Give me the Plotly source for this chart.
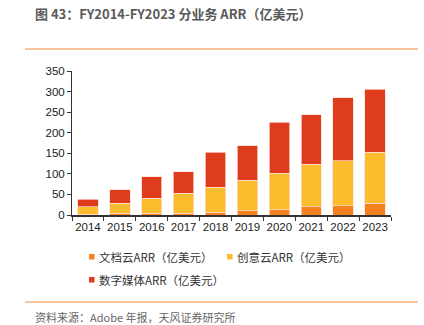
import plotly.graph_objects as go

years = ["2014", "2015", "2016", "2017", "2018", "2019", "2020", "2021", "2022", "2023"]
doc_cloud = [2, 4, 4, 4, 7, 10, 13, 20, 23, 28]
creative_cloud = [18, 25, 37, 49, 60, 75, 89, 103, 109, 125]
digital_media = [18, 32, 52, 52, 85, 83, 124, 121, 153, 153]
names = ["文档云ARR（亿美元）", "创意云ARR（亿美元）", "数字媒体ARR（亿美元）"]
colors = ["#F5821F", "#FBBC2D", "#DE3C1C"]
y_ticks = [0, 50, 100, 150, 200, 250, 300, 350]

W, H = 424, 325
L, R, T, B = 72, 33, 71, 110
pw, ph = W - L - R, H - T - B

def px(x):
    return (x - L) / pw

def py(y):
    return (H - B - y) / ph

cjk = "Noto Sans CJK SC"
latin = "Liberation Sans, Arial"

fig = go.Figure()
for vals, name, c in zip([doc_cloud, creative_cloud, digital_media], names, colors):
    fig.add_trace(go.Bar(x=years, y=vals, name=name,
                         marker=dict(color=c, line=dict(color="rgba(255,220,210,0.9)", width=0.8)),
                         width=0.64, showlegend=False))

fig.update_layout(
    width=W, height=H, barmode="stack", bargap=0.36, showlegend=False,
    margin=dict(l=L, r=R, t=T, b=B),
    paper_bgcolor="white", plot_bgcolor="white",
    font=dict(family=latin, size=11, color="#222"),
    xaxis=dict(type="category", showline=True, linecolor="#333", linewidth=1.5,
               ticks="outside", tickson="boundaries", ticklen=4, tickcolor="#333", tickangle=0,
               tickfont=dict(size=11.5, family=latin, color="#222"), showgrid=False),
    yaxis=dict(range=[0, 350], tickvals=y_ticks, showline=True, linecolor="#333", linewidth=1,
               ticks="outside", ticklen=4, tickcolor="#333", showgrid=False, zeroline=False,
               tickfont=dict(size=11.5, family=latin, color="#222")),
)

# manual legend (positions in pixels)
legend_pos = [(89, 257), (227, 257), (89, 280)]
for (lx, ly), name, c in zip(legend_pos, names, colors):
    fig.add_shape(type="rect", xref="paper", yref="paper",
                  x0=px(lx), x1=px(lx + 5.5), y0=py(ly - 3), y1=py(ly + 2.5),
                  fillcolor=c, line=dict(width=0))
    fig.add_annotation(text=name, xref="paper", yref="paper", x=px(lx + 7.5), y=py(ly),
                       xanchor="left", yanchor="middle", showarrow=False,
                       font=dict(family=cjk, size=11.5, color="#333"))

fig.add_annotation(text="<b>图 43：FY2014-FY2023 分业务 ARR（亿美元）</b>", xref="paper", yref="paper",
                   x=px(33), y=py(13), xanchor="left", yanchor="middle", showarrow=False,
                   font=dict(family=cjk, size=13, color="#595959"))
fig.add_annotation(text="资料来源：Adobe 年报，天风证券研究所", xref="paper", yref="paper",
                   x=px(33), y=py(317), xanchor="left", yanchor="middle", showarrow=False,
                   font=dict(family=cjk, size=11, color="#666"))
for yy in [49, 302]:
    fig.add_shape(type="line", xref="paper", yref="paper", x0=px(25), x1=px(418), y0=py(yy), y1=py(yy),
                  line=dict(color="#F08A3C", width=1.2))

fig.write_html("out.html")
